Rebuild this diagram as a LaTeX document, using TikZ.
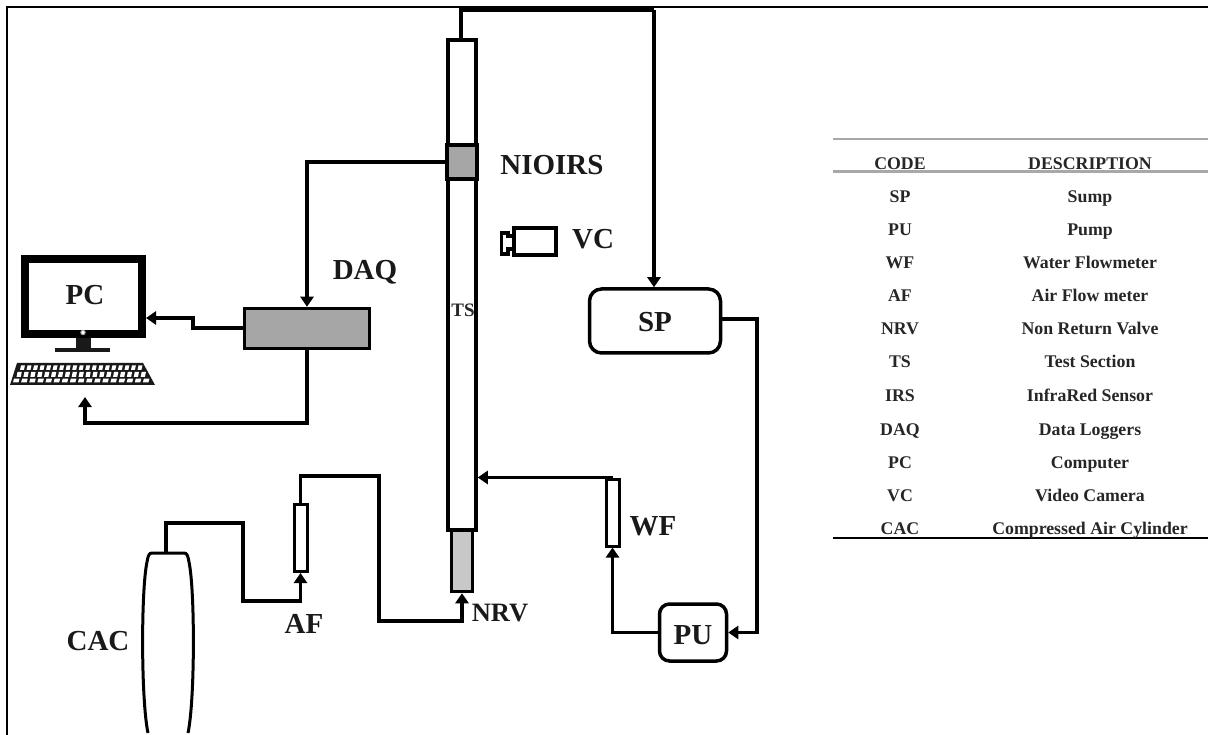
\documentclass[tikz,border=0pt]{standalone}
\usepackage{fontspec}
\setmainfont{Liberation Serif}
\usetikzlibrary{arrows.meta}
\definecolor{boxgray}{HTML}{A6A6A6}
\definecolor{valvegray}{HTML}{C8C8C8}
\definecolor{rulegray}{HTML}{A8A8A8}
\tikzset{
  x=1pt,y=-1pt,
  wire/.style={line width=3.5pt,line join=miter,-{Triangle[length=10pt,width=13pt]}},
  pipe/.style={line width=3.5pt,line join=miter},
  box/.style={draw=black,line width=3.5pt,inner sep=0pt,fill=white},
  lab/.style={font=\bfseries\fontsize{29}{31}\selectfont,text=black!90,inner sep=0pt},
  cell/.style={font=\bfseries\fontsize{17.8}{19}\selectfont,text=black!85,inner sep=0pt},
}
\begin{document}
\begin{tikzpicture}
\useasboundingbox (0,0) rectangle (1208,735);
% frame
\coordinate (fa) at (7,735); \coordinate (fb) at (7,7); \coordinate (fc) at (1208,7);
\draw[line width=2.2pt] (fa) -- (fb) -- (fc);
% test section
\node[box,minimum width=28pt,minimum height=490pt] (ts) at (462,285) {};
\node[font=\bfseries\fontsize{19}{20}\selectfont,text=black!85,inner sep=0pt] (tslab) at (463,310) {TS};
\node[box,fill=boxgray,line width=4pt,minimum width=30pt,minimum height=34pt] (nioirs) at (462,162) {};
\node[box,fill=valvegray,minimum width=21pt,minimum height=61pt] (nrv) at (462,561) {};
% DAQ
\node[box,fill=boxgray,minimum width=125pt,minimum height=40pt] (daq) at (307,328.5) {};
% sump / pump
\node[box,rounded corners=12pt,minimum width=131pt,minimum height=64pt] (sp) at (655,321) {};
\node[box,rounded corners=10pt,minimum width=67pt,minimum height=57pt] (pu) at (693,632.5) {};
% flow meters
\node[box,line width=3pt,minimum width=13pt,minimum height=67pt] (wf) at (612.5,512.5) {};
\node[box,line width=3pt,minimum width=13pt,minimum height=67pt] (af) at (300.5,538) {};
% cylinder
\coordinate (cactop) at (166,553);
\draw[line width=3pt] (148,733) .. controls (141,700) and (141,590) .. (147,562) .. controls (148,556) and (149,553) .. (152,553) -- (184,553) .. controls (187,553) and (188,556) .. (189,562) .. controls (195,590) and (195,700) .. (188,733);
% computer
\node[draw=black,line width=8pt,fill=white,inner sep=0pt,minimum width=117pt,minimum height=75pt] (pc) at (83.5,296.5) {};
\coordinate (st1) at (76,338); \coordinate (st2) at (91,350);
\fill[black!90] (st1) rectangle (st2);
\coordinate (bs1) at (55,348); \coordinate (bs2) at (110,352);
\fill[black!90] (bs1) rectangle (bs2);
\coordinate (dot) at (83,332.5);
\draw[gray!70,fill=white,line width=1pt] (dot) circle (2.2);
\fill[black!90] (17,363) -- (143,363) -- (155,385) -- (10,385) -- cycle;
\foreach \row/\ya/\yb/\n in {0/365.5/370/19,1/372/377/19,2/378.7/382.5/17}{
  \foreach \k in {1,...,\n}{
    \pgfmathsetmacro{\xa}{(20-\row*3.5)+(\k-1)*(124+\row*7)/\n}
    \pgfmathsetmacro{\wid}{(124+\row*7)/\n-2.6}
    \fill[white] (\xa,\yb) -- (\xa+1,\ya) -- (\xa+\wid+1,\ya) -- (\xa+\wid,\yb) -- cycle;
  }
}
% camera
\coordinate (cam1) at (514,228); \coordinate (cam2) at (556,255);
\draw[line width=3.5pt] (cam1) rectangle (cam2);
\draw[line width=3.5pt,line join=miter] (514,236) -- (508,236) -- (508,233) -- (501.5,233) -- (501.5,254) -- (508,254) -- (508,249) -- (514,249);
% connectors
\coordinate (j1) at (461,10); \coordinate (j2) at (654,10);
\draw[pipe] (ts.north -| j1) -- (j1) -- (j2);
\draw[wire] (j2) -- (sp.north -| j2);
\draw[wire] (nioirs.west) -| (daq.north);
\coordinate (d1) at (193,328); \coordinate (d2) at (193,318);
\draw[wire] (daq.west |- d1) -- (d1) -- (d2) -- (pc.east |- d2);
\coordinate (k1) at (85,423); \coordinate (k2) at (85,397);
\draw[wire] (daq.south) |- (k1) -- (k2);
\coordinate (s1) at (757,319);
\draw[wire] (sp.east |- s1) -- (s1) |- (pu.east);
\draw[wire] (pu.west) -| (wf.south);
\draw[wire] (wf.north) -- (ts.east |- wf.north);
\coordinate (a1) at (243,523); \coordinate (a2) at (243,601);
\draw[wire] (cactop) |- (a1) -- (a2) -| (af.south);
\coordinate (n1) at (300.5,476); \coordinate (n2) at (379,476); \coordinate (n3) at (379,621);
\draw[wire] (af.north) -- (n1) -- (n2) -- (n3) -| (nrv.south);
% labels
\node[lab] (lpc) at (85,295) {PC};
\node[lab] (ldaq) at (365,272) {DAQ};
\node[lab] (lni) at (552,165) {NIOIRS};
\node[lab] (lvc) at (593,239) {VC};
\node[lab] (lsp) at (655,322) {SP};
\node[lab] (lpu) at (693,635) {PU};
\node[lab] (lwf) at (653,526) {WF};
\node[lab] (laf) at (304,624) {AF};
\node[lab,font=\bfseries\fontsize{26.5}{28}\selectfont] (lnrv) at (500,613) {NRV};
\node[lab] (lcac) at (98,641) {CAC};
% table
\coordinate (t1) at (833,139); \coordinate (t2) at (1208,139);
\coordinate (t3) at (833,172); \coordinate (t4) at (1208,172);
\coordinate (t5) at (833,538); \coordinate (t6) at (1208,538);
\draw[rulegray,line width=1.5pt] (t1) -- (t2);
\draw[rulegray,line width=3pt] (t3) -- (t4);
\draw[black,line width=1.5pt] (t5) -- (t6);
\foreach \y/\c/\d in {163.5/CODE/DESCRIPTION,197/SP/Sump,230/PU/Pump,263/WF/Water Flowmeter,296/AF/Air Flow meter,329/NRV/Non Return Valve,362/TS/Test Section,396/IRS/InfraRed Sensor,429/DAQ/Data Loggers,462/PC/Computer,495/VC/Video Camera,528/CAC/Compressed Air Cylinder}{
  \node[cell,anchor=base] (c\c) at (900,\y+6) {\c};
  \node[cell,anchor=base] (d\c) at (1090,\y+6) {\d};
}
\end{tikzpicture}
\end{document}
